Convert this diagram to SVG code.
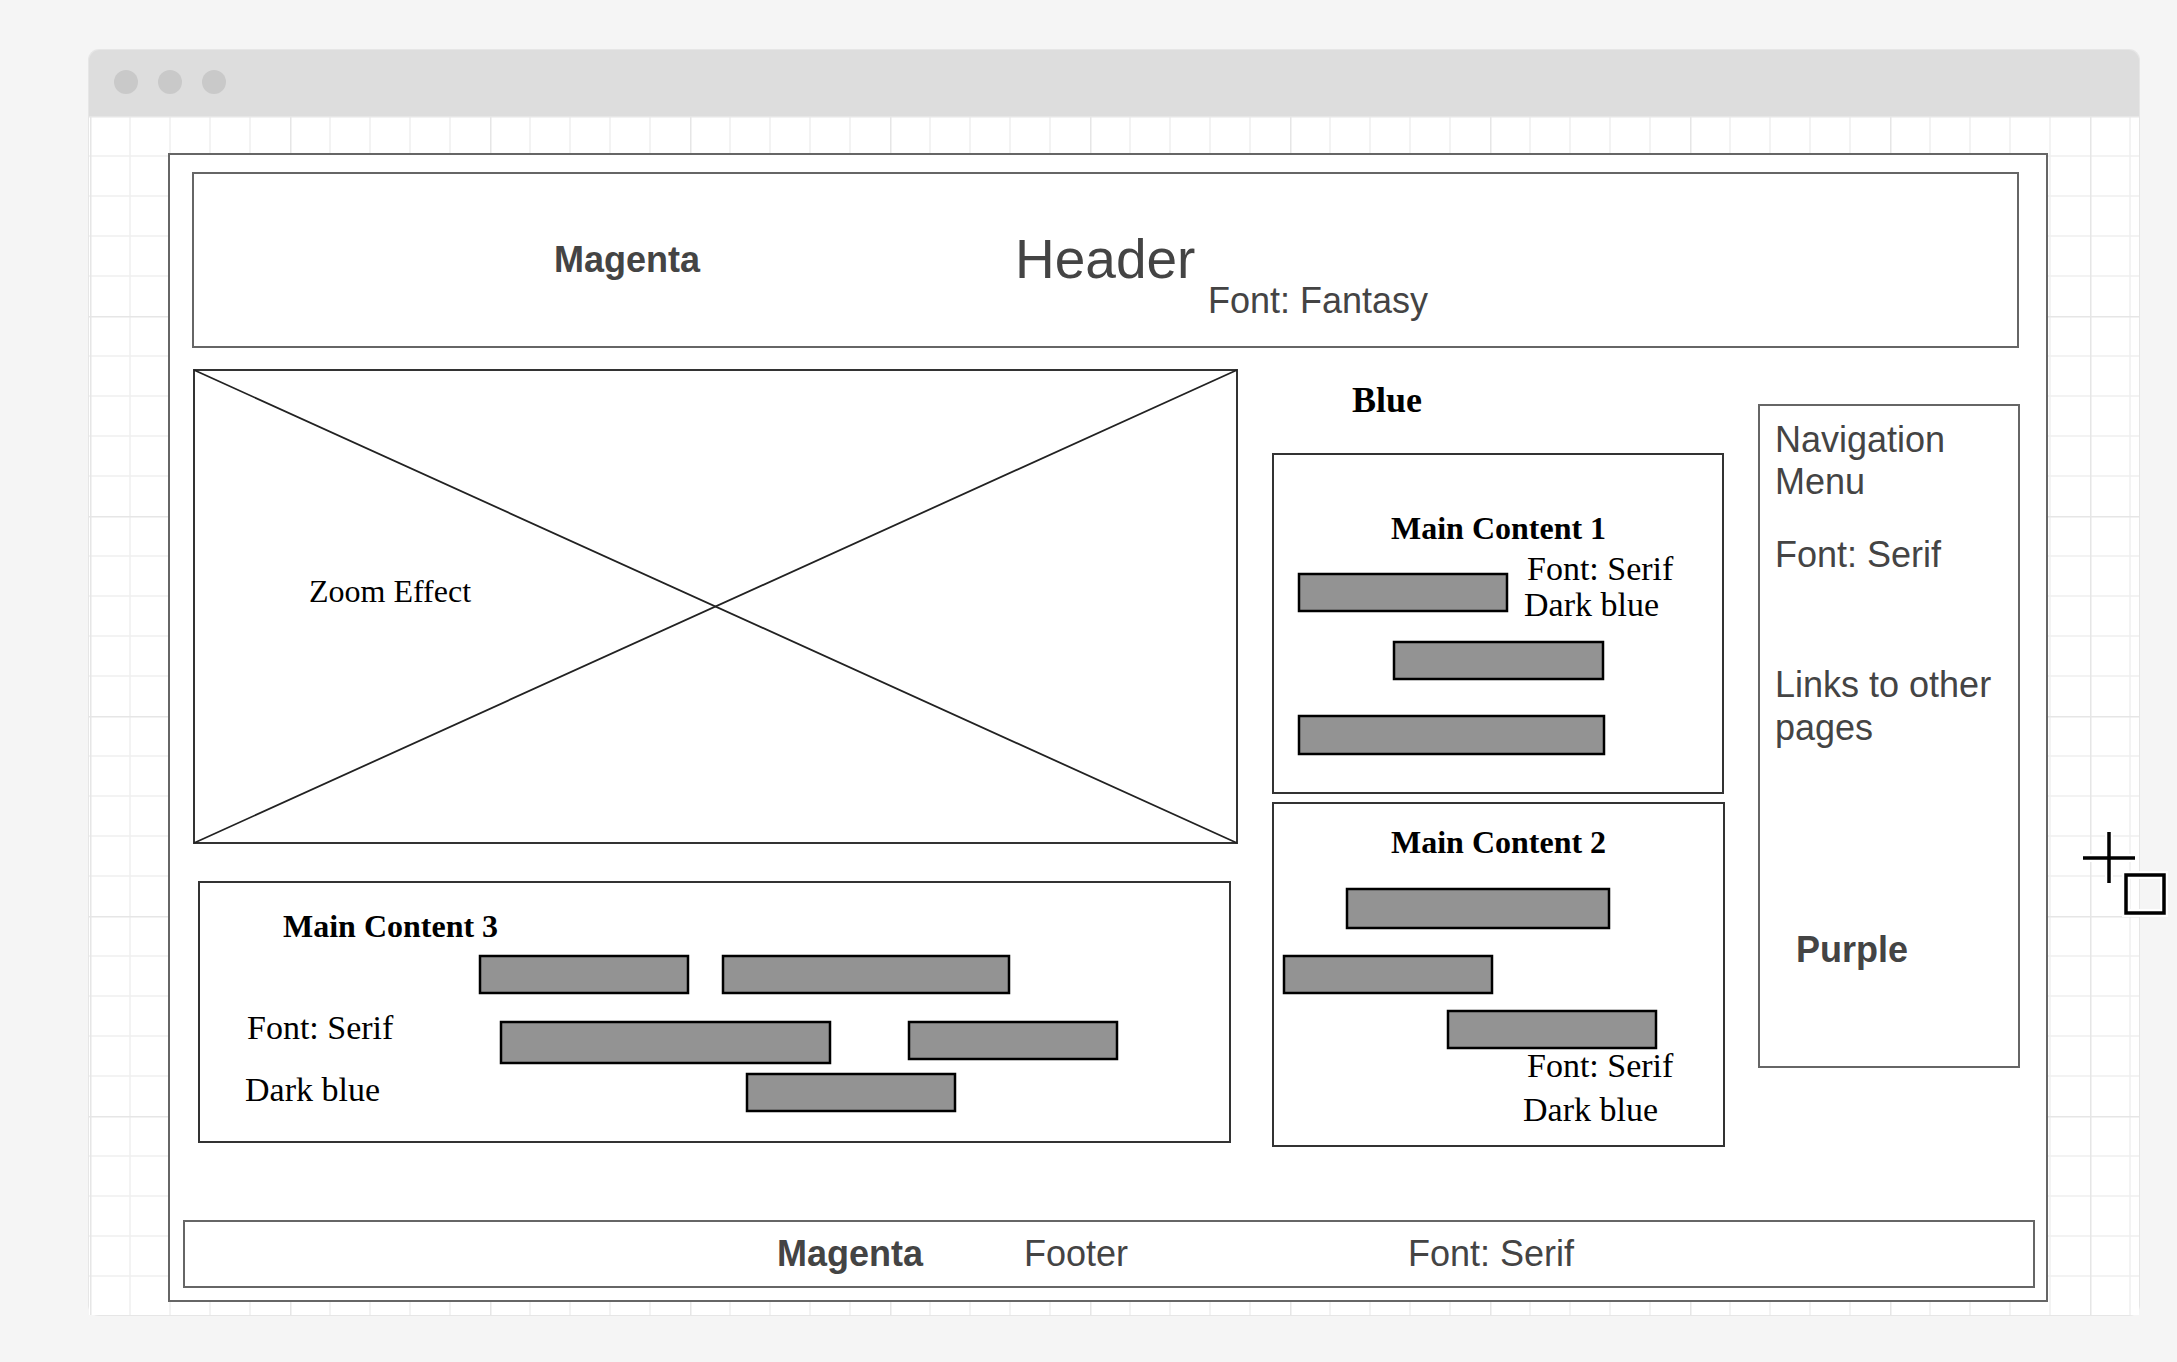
<svg xmlns="http://www.w3.org/2000/svg" width="2177" height="1362" viewBox="0 0 2177 1362">
<defs>
<pattern id="grid" x="90" y="116" width="200" height="200" patternUnits="userSpaceOnUse">
<path d="M40 0V200M80 0V200M120 0V200M160 0V200M0 40H200M0 80H200M0 120H200M0 160H200" fill="none" stroke="#efefef" stroke-width="1.5"/>
<path d="M0.75 0V200M0 0.75H200" fill="none" stroke="#e6e6e6" stroke-width="1.5"/>
</pattern>
</defs>
<style>
.frame{fill:#fff;stroke:#666;stroke-width:2}
.box{fill:#fff;stroke:#333;stroke-width:2}
.bar{fill:#939393;stroke:#000;stroke-width:2.5}
.sans{font-family:"Liberation Sans",Arial,sans-serif;fill:#444}
.b{font-weight:bold}
.serif{font-family:"Liberation Serif","Times New Roman",serif;fill:#000}
.s36{font-size:36px}
.s34{font-size:34px}
.s32{font-size:32px}
</style>
<rect x="0" y="0" width="2177" height="1362" fill="#f5f5f5"/>
<g id="window">
<rect x="88" y="49" width="2052" height="1267" rx="11" fill="#e6e6e6"/>
<path d="M89 116V61a11 11 0 0 1 11-11H2128a11 11 0 0 1 11 11V116Z" fill="#dddddd"/>
<rect x="89" y="116" width="2050" height="1199" fill="#fff"/>
<rect x="89" y="116" width="2050" height="1199" fill="url(#grid)"/>
<circle cx="126" cy="82" r="12" fill="#c9c9c9"/>
<circle cx="170" cy="82" r="12" fill="#c9c9c9"/>
<circle cx="214" cy="82" r="12" fill="#c9c9c9"/>
</g>
<g id="page">
<rect class="frame" x="169" y="154" width="1878" height="1147"/>
</g>
<g id="header">
<rect class="frame" x="193" y="173" width="1825" height="174"/>
<text class="sans b s36" x="554" y="272">Magenta</text>
<text class="sans" x="1015" y="278" font-size="55">Header</text>
<text class="sans s36" x="1208" y="313">Font: Fantasy</text>
</g>
<g id="zoom-image">
<rect class="box" x="194" y="370" width="1043" height="473"/>
<path d="M194 370L1237 843M194 843L1237 370" stroke="#222" stroke-width="1.8" fill="none"/>
<text class="serif s32" x="309" y="602">Zoom Effect</text>
</g>
<g id="blue-label">
<text class="serif b s36" x="1352" y="412">Blue</text>
</g>
<g id="main-content-1">
<rect class="box" x="1273" y="454" width="450" height="339"/>
<text class="serif b s32" x="1391" y="539">Main Content 1</text>
<rect class="bar" x="1299" y="574" width="208" height="37"/>
<rect class="bar" x="1394" y="642" width="209" height="37"/>
<rect class="bar" x="1299" y="716" width="305" height="38"/>
<text class="serif s34" x="1527" y="580">Font: Serif</text>
<text class="serif s34" x="1524" y="616">Dark blue</text>
</g>
<g id="main-content-2">
<rect class="box" x="1273" y="803" width="451" height="343"/>
<text class="serif b s32" x="1391" y="853">Main Content 2</text>
<rect class="bar" x="1347" y="889" width="262" height="39"/>
<rect class="bar" x="1284" y="956" width="208" height="37"/>
<rect class="bar" x="1448" y="1011" width="208" height="37"/>
<text class="serif s34" x="1527" y="1077">Font: Serif</text>
<text class="serif s34" x="1523" y="1121">Dark blue</text>
</g>
<g id="main-content-3">
<rect class="box" x="199" y="882" width="1031" height="260"/>
<text class="serif b s32" x="283" y="937">Main Content 3</text>
<rect class="bar" x="480" y="956" width="208" height="37"/>
<rect class="bar" x="723" y="956" width="286" height="37"/>
<rect class="bar" x="501" y="1022" width="329" height="41"/>
<rect class="bar" x="909" y="1022" width="208" height="37"/>
<rect class="bar" x="747" y="1074" width="208" height="37"/>
<text class="serif s34" x="247" y="1039">Font: Serif</text>
<text class="serif s34" x="245" y="1101">Dark blue</text>
</g>
<g id="navigation">
<rect class="frame" x="1759" y="405" width="260" height="662"/>
<text class="sans s36" x="1775" y="452">Navigation</text>
<text class="sans s36" x="1775" y="494">Menu</text>
<text class="sans s36" x="1775" y="567">Font: Serif</text>
<text class="sans s36" x="1775" y="697">Links to other</text>
<text class="sans s36" x="1775" y="740">pages</text>
<text class="sans b s36" x="1796" y="962">Purple</text>
</g>
<g id="footer">
<rect class="frame" x="184" y="1221" width="1850" height="66"/>
<text class="sans b s36" x="777" y="1266">Magenta</text>
<text class="sans s36" x="1024" y="1266">Footer</text>
<text class="sans s36" x="1408" y="1266">Font: Serif</text>
</g>
<g id="add-icon">
<path d="M2083 858H2135M2109 832V883" stroke="#fff" stroke-width="8" fill="none"/>
<rect x="2126" y="875" width="38" height="38" fill="none" stroke="#fff" stroke-width="8"/>
<path d="M2083 858H2135M2109 832V883" stroke="#000" stroke-width="3.5" fill="none"/>
<rect x="2126" y="875" width="38" height="38" fill="none" stroke="#000" stroke-width="3.5"/>
</g>
<g id="connectors"/>
</svg>
